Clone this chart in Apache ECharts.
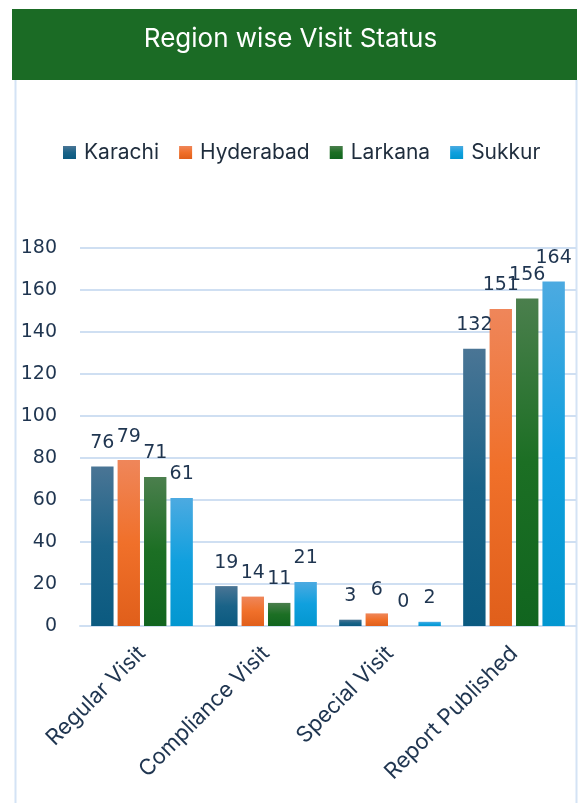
<!DOCTYPE html>
<html>
<head>
<meta charset="utf-8">
<script src="https://cdn.jsdelivr.net/npm/echarts@6/dist/echarts.min.js"></script>
<style>
  html, body { margin: 0; padding: 0; background: #fff; }
  #chart { width: 581px; height: 803px; }
</style>
</head>
<body>
<div id="chart"></div>
<script>
// * Chart data
const categories = ["Regular Visit", "Compliance Visit", "Special Visit", "Report Published"];
const regions = ["Karachi", "Hyderabad", "Larkana", "Sukkur"];
const karachi = [76, 19, 3, 132];
const hyderabad = [79, 14, 6, 151];
const larkana = [71, 11, 0, 156];
const sukkur = [61, 21, 2, 164];
const yTicks = [0, 20, 40, 60, 80, 100, 120, 140, 160, 180];

// * Gradient stops per series (top, middle, bottom)
const palette = [
  ["#4a7595", "#1a6388", "#0b5a80"],
  ["#ef865a", "#f0702a", "#e05f1b"],
  ["#4b7f4d", "#1c6f24", "#11651f"],
  ["#4caae1", "#10a0de", "#0397d0"],
];
const textColor = "#1f3550";
const fontFamily = "Inter, 'Liberation Sans', sans-serif";
const numberFont = "'DejaVu Sans', sans-serif";

const myChart = echarts.init(document.getElementById("chart"));

const seriesData = [karachi, hyderabad, larkana, sukkur];

const option = {
  animation: false,
  color: palette.map((p) => p[2]),
  graphic: [
    // ! Header band
    {
      type: "rect",
      shape: { x: 12, y: 9, width: 565, height: 71 },
      style: { fill: "#1b6b25" },
      z: 10,
    },
    {
      type: "text",
      left: "center",
      top: 26,
      style: {
        text: "Region wise Visit Status",
        fill: "#ffffff",
        font: "26px " + fontFamily,
      },
      z: 11,
    },
    // * Light frame around the chart body
    {
      type: "line",
      shape: { x1: 15.5, y1: 80, x2: 15.5, y2: 803 },
      style: { stroke: "#d4e3f5", lineWidth: 2 },
    },
    {
      type: "line",
      shape: { x1: 576.5, y1: 80, x2: 576.5, y2: 803 },
      style: { stroke: "#d4e3f5", lineWidth: 2 },
    },
  ],
  legend: {
    data: regions,
    top: 137,
    left: 58,
    itemWidth: 13,
    itemHeight: 13,
    itemGap: 20,
    icon: "rect",
    textStyle: { color: "#1f2d3d", fontSize: 21, fontFamily, padding: [0, 0, 0, 3] },
  },
  grid: {
    left: 80,
    right: 5,
    top: 248,
    bottom: 177,
  },
  xAxis: {
    type: "category",
    data: categories,
    axisLine: { lineStyle: { color: "#cfdff2", width: 2 } },
    axisTick: { show: false },
    axisLabel: {
      rotate: 45,
      margin: 24,
      padding: [14, 0, 0, 0],
      color: textColor,
      fontSize: 22,
      fontFamily,
    },
  },
  yAxis: {
    type: "value",
    min: 0,
    max: yTicks[yTicks.length - 1],
    interval: yTicks[1] - yTicks[0],
    axisLine: { show: false },
    axisTick: { show: false },
    splitLine: { lineStyle: { color: "#cfdff2", width: 2 } },
    axisLabel: {
      margin: 23,
      color: textColor,
      fontSize: 19,
      fontFamily: numberFont,
    },
  },
  series: regions.map((name, i) => ({
    name,
    type: "bar",
    data: seriesData[i],
    barGap: "18%",
    barCategoryGap: "18%",
    itemStyle: {
      color: new echarts.graphic.LinearGradient(0, 0, 0, 1, [
        { offset: 0, color: palette[i][0] },
        { offset: 0.5, color: palette[i][1] },
        { offset: 1, color: palette[i][2] },
      ]),
    },
    label: {
      show: true,
      position: "top",
      distance: 14,
      color: textColor,
      fontSize: 19,
      fontFamily: numberFont,
    },
  })),
};

myChart.setOption(option);
</script>
</body>
</html>
